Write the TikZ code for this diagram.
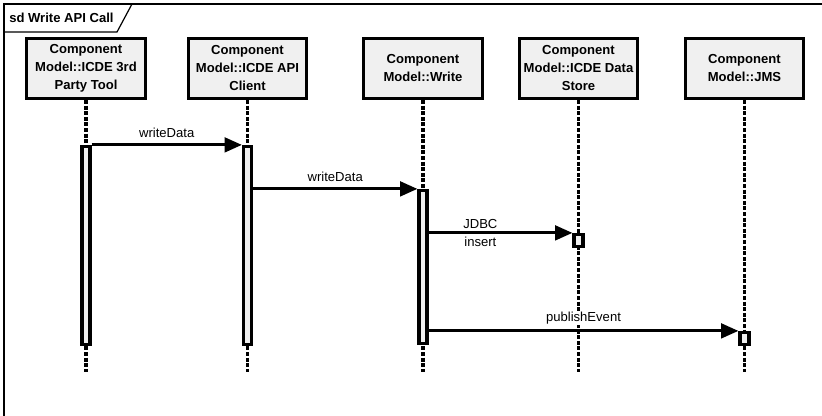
\documentclass[tikz,border=0pt]{standalone}
\usepackage{fontspec}
\setmainfont{Liberation Sans}
\usetikzlibrary{arrows.meta,positioning,calc}

\definecolor{boxfill}{RGB}{240,240,240}

\begin{document}
\begin{tikzpicture}[
    x=0.75pt, y=-0.75pt,
    font=\fontsize{9.8}{13.5}\selectfont,
    head/.style={draw=black, fill=boxfill, line width=2.4pt, minimum width=89pt, minimum height=45pt, align=center, font=\fontsize{9.8}{13.5}\selectfont\bfseries, inner sep=1pt},
    life/.style={line width=2.4pt, dash pattern=on 3pt off 1.2pt},
    bar/.style={draw=black, fill=boxfill, line width=2.4pt, minimum width=6pt, inner sep=0pt},
    msg/.style={line width=2.2pt, -{Triangle[length=13pt, width=11pt]}},
    msglabel/.style={font=\fontsize{9.8}{11}\selectfont, inner sep=1pt}
]

    \useasboundingbox (0,0) rectangle (822,416);

    % Frame
    \draw[line width=0.9pt] (4,416) -- (4,4) -- (822,4);
    \draw[line width=0.9pt] (4,32) -- (117,32) -- (132,4);
    \node[anchor=west, font=\fontsize{9.8}{11}\selectfont\bfseries, inner sep=0pt] (title) at (9,18) {sd Write API Call};

    % Lifeline heads
    \node[head] (tool)   at (86,68.5)    {Component\\Model::ICDE 3rd\\Party Tool};
    \node[head] (client) at (247.5,68.5) {Component\\Model::ICDE API\\Client};
    \node[head] (write)  at (423,68.5)   {Component\\Model::Write};
    \node[head] (store)  at (578.5,68.5) {Component\\Model::ICDE Data\\Store};
    \node[head] (jms)    at (744.5,68.5) {Component\\Model::JMS};

    % Lifelines
    \foreach \n/\x in {tool/86, client/247.5, write/423, store/578.5, jms/744.5} {
        \coordinate (\n-end) at (\x,372);
        \draw[life] (\n.south) -- (\n-end);
    }

    % Activations
    \node[bar, minimum height=148.5pt] (act1) at (86,245.5) {};
    \node[bar, minimum height=148.5pt] (act2) at (247.5,245.5) {};
    \node[bar, minimum height=114.75pt] (act3) at (423,267) {};
    \node[bar, minimum width=6.75pt, minimum height=9pt] (exec4) at (578.5,240.5) {};
    \node[bar, minimum width=6.75pt, minimum height=9pt] (exec5) at (744.5,338.5) {};

    % Messages
    \draw[msg] (act1.north east) -- node[msglabel, above=3pt] {writeData} (act2.north west);
    \draw[msg] (act2.east |- act3.north) -- node[msglabel, above=3pt] {writeData} (act3.north west);
    \draw[msg] (act3.east |- exec4.north) -- node[msglabel, pos=0.36, above=1pt] {JDBC}
        node[msglabel, pos=0.36, below=1pt] {insert} (exec4.north west);
    \draw[msg] (act3.east |- exec5.north) -- node[msglabel, above=3pt, fill=white] {publishEvent} (exec5.north west);

\end{tikzpicture}
\end{document}
